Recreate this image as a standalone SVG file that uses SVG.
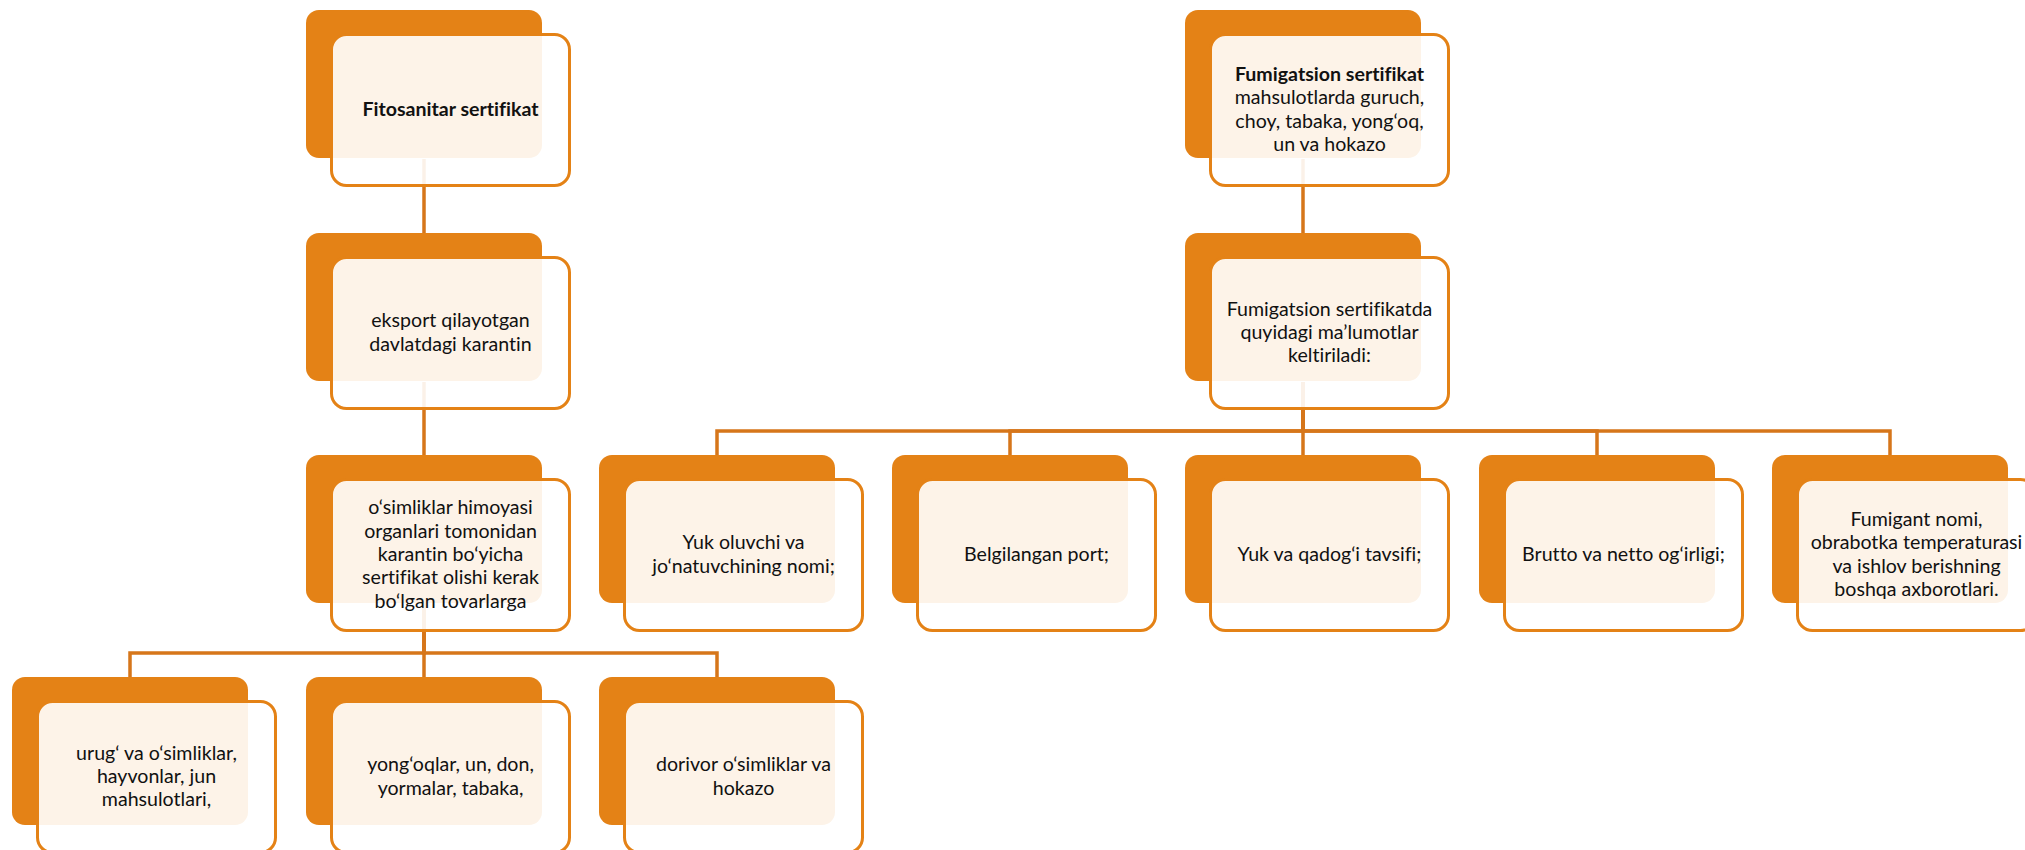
<svg xmlns="http://www.w3.org/2000/svg" width="2025" height="850" viewBox="0 0 2025 850">
<defs>
<style>
.back{fill:#E48216;}
.front{fill:#FFFFFF;fill-opacity:0.9;stroke:#E48216;stroke-width:3;}
.conn{fill:none;stroke:#D6761A;stroke-width:3.5;}
.t{font-family:Lato,"Liberation Sans",sans-serif;font-size:19.6px;fill:#111111;text-anchor:middle;font-variant-ligatures:none;}
.b{font-weight:bold;}
</style>
</defs>
<rect width="2025" height="850" fill="#FFFFFF"/>
<g id="connectors">
<path class="conn" d="M424,159 V233"/>
<path class="conn" d="M424,382 V455"/>
<path class="conn" d="M424,603 V653 H130 V677"/>
<path class="conn" d="M424,603 V677"/>
<path class="conn" d="M424,603 V653 H717 V677"/>
<path class="conn" d="M1303,159 V233"/>
<path class="conn" d="M1303,382 V431 H717 V455"/>
<path class="conn" d="M1303,382 V431 H1010 V455"/>
<path class="conn" d="M1303,382 V455"/>
<path class="conn" d="M1303,382 V431 H1597 V455"/>
<path class="conn" d="M1303,382 V431 H1890 V455"/>
</g>
<g id="n-fitosanitar">
<rect class="back" x="306" y="10" width="236" height="148" rx="13"/>
<rect class="front" x="331.5" y="34.5" width="238" height="151" rx="15"/>
<text class="t b" x="450.5" y="116">Fitosanitar sertifikat</text>
</g>
<g id="n-eksport">
<rect class="back" x="306" y="233" width="236" height="148" rx="13"/>
<rect class="front" x="331.5" y="257.5" width="238" height="151" rx="15"/>
<text class="t"><tspan x="450.5" y="327.3">eksport qilayotgan</tspan><tspan x="450.5" y="350.7">davlatdagi karantin</tspan></text>
</g>
<g id="n-osimliklar">
<rect class="back" x="306" y="455" width="236" height="148" rx="13"/>
<rect class="front" x="331.5" y="479.5" width="238" height="151" rx="15"/>
<text class="t"><tspan x="450.5" y="514.2">o‘simliklar himoyasi</tspan><tspan x="450.5" y="537.6">organlari tomonidan</tspan><tspan x="450.5" y="561">karantin bo‘yicha</tspan><tspan x="450.5" y="584.4">sertifikat olishi kerak</tspan><tspan x="450.5" y="607.8">bo‘lgan tovarlarga</tspan></text>
</g>
<g id="n-urug">
<rect class="back" x="12" y="677" width="236" height="148" rx="13"/>
<rect class="front" x="37.5" y="701.5" width="238" height="151" rx="15"/>
<text class="t"><tspan x="156.5" y="759.6">urug‘ va o‘simliklar,</tspan><tspan x="156.5" y="783">hayvonlar, jun</tspan><tspan x="156.5" y="806.4">mahsulotlari,</tspan></text>
</g>
<g id="n-yongoqlar">
<rect class="back" x="306" y="677" width="236" height="148" rx="13"/>
<rect class="front" x="331.5" y="701.5" width="238" height="151" rx="15"/>
<text class="t"><tspan x="450.5" y="771.3">yong‘oqlar, un, don,</tspan><tspan x="450.5" y="794.7">yormalar, tabaka,</tspan></text>
</g>
<g id="n-dorivor">
<rect class="back" x="599" y="677" width="236" height="148" rx="13"/>
<rect class="front" x="624.5" y="701.5" width="238" height="151" rx="15"/>
<text class="t"><tspan x="743.5" y="771.3">dorivor o‘simliklar va</tspan><tspan x="743.5" y="794.7">hokazo</tspan></text>
</g>
<g id="n-fumigatsion">
<rect class="back" x="1185" y="10" width="236" height="148" rx="13"/>
<rect class="front" x="1210.5" y="34.5" width="238" height="151" rx="15"/>
<text class="t"><tspan class="b" x="1329.5" y="80.9">Fumigatsion sertifikat</tspan><tspan x="1329.5" y="104.3">mahsulotlarda guruch,</tspan><tspan x="1329.5" y="127.7">choy, tabaka, yong‘oq,</tspan><tspan x="1329.5" y="151.1">un va hokazo</tspan></text>
</g>
<g id="n-malumotlar">
<rect class="back" x="1185" y="233" width="236" height="148" rx="13"/>
<rect class="front" x="1210.5" y="257.5" width="238" height="151" rx="15"/>
<text class="t"><tspan x="1329.5" y="315.6">Fumigatsion sertifikatda</tspan><tspan x="1329.5" y="339">quyidagi ma’lumotlar</tspan><tspan x="1329.5" y="362.4">keltiriladi:</tspan></text>
</g>
<g id="n-yuk-oluvchi">
<rect class="back" x="599" y="455" width="236" height="148" rx="13"/>
<rect class="front" x="624.5" y="479.5" width="238" height="151" rx="15"/>
<text class="t"><tspan x="743.5" y="549.3">Yuk oluvchi va</tspan><tspan x="743.5" y="572.7">jo‘natuvchining nomi;</tspan></text>
</g>
<g id="n-port">
<rect class="back" x="892" y="455" width="236" height="148" rx="13"/>
<rect class="front" x="917.5" y="479.5" width="238" height="151" rx="15"/>
<text class="t" x="1036.5" y="561">Belgilangan port;</text>
</g>
<g id="n-qadog">
<rect class="back" x="1185" y="455" width="236" height="148" rx="13"/>
<rect class="front" x="1210.5" y="479.5" width="238" height="151" rx="15"/>
<text class="t" x="1329.5" y="561">Yuk va qadog‘i tavsifi;</text>
</g>
<g id="n-brutto">
<rect class="back" x="1479" y="455" width="236" height="148" rx="13"/>
<rect class="front" x="1504.5" y="479.5" width="238" height="151" rx="15"/>
<text class="t" x="1623.5" y="561">Brutto va netto og‘irligi;</text>
</g>
<g id="n-fumigant">
<rect class="back" x="1772" y="455" width="236" height="148" rx="13"/>
<rect class="front" x="1797.5" y="479.5" width="238" height="151" rx="15"/>
<text class="t"><tspan x="1916.5" y="525.9">Fumigant nomi,</tspan><tspan x="1916.5" y="549.3">obrabotka temperaturasi</tspan><tspan x="1916.5" y="572.7">va ishlov berishning</tspan><tspan x="1916.5" y="596.1">boshqa axborotlari.</tspan></text>
</g>
</svg>
